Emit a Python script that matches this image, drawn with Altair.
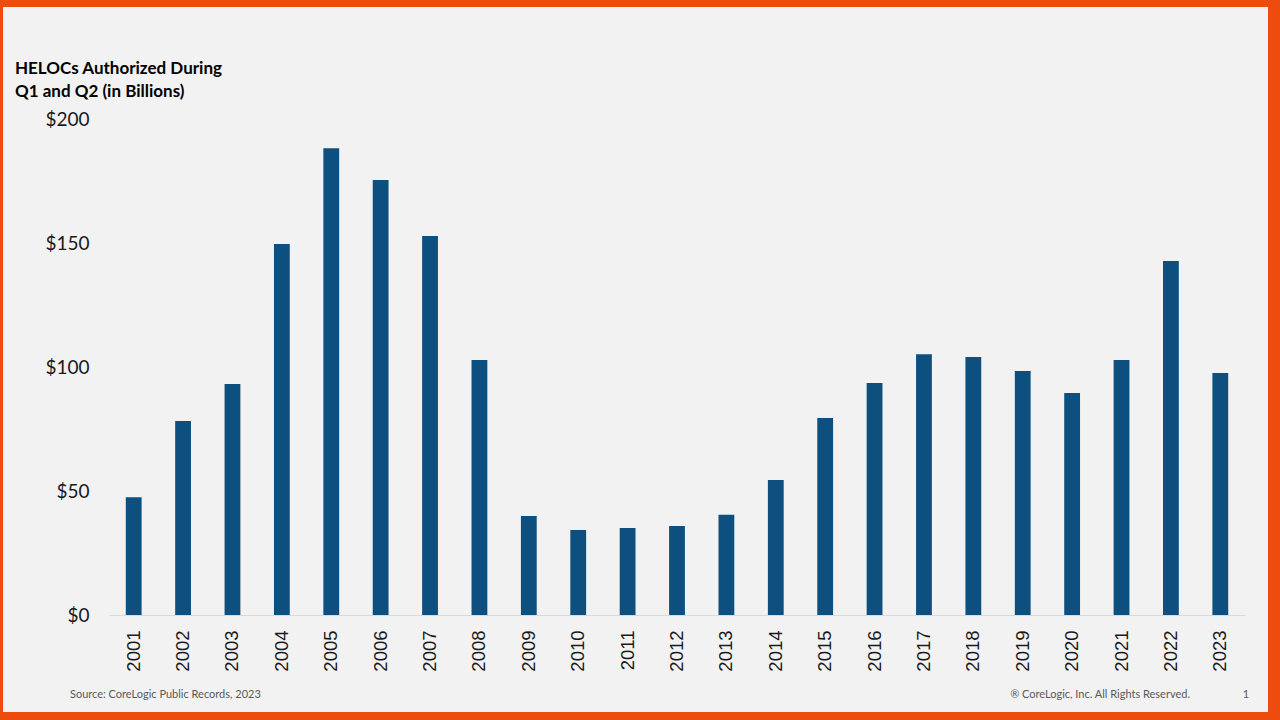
import altair as alt
import pandas as pd

years = [str(y) for y in range(2001, 2024)]
helocs = [47.5, 78.2, 93.1, 149.6, 188.2, 175.4, 152.8, 102.8, 39.9, 34.3, 35.1, 35.9,
          40.4, 54.4, 79.4, 93.5, 105.1, 104.0, 98.4, 89.5, 102.8, 142.7, 97.6]
y_ticks = [0, 50, 100, 150, 200]
title_lines = ["HELOCs Authorized During", "Q1 and Q2 (in Billions)"]
source_text = "Source: CoreLogic Public Records, 2023"
rights_text = "® CoreLogic, Inc. All Rights Reserved."
page_text = "1"

df = pd.DataFrame({"year": years, "value": helocs})

W, H = 1136, 496
PL, PT = 109, 119

one = alt.Data(values=[{"a": 1}])

panel = alt.Chart(one).mark_rect(color="#f2f2f2").encode(
    x=alt.value(3 - PL), x2=alt.value(1268 - PL),
    y=alt.value(7 - PT), y2=alt.value(712 - PT),
)

bars = alt.Chart(df).mark_bar(color="#0d4f7e").encode(
    x=alt.X("year:N", sort=years,
            scale=alt.Scale(paddingInner=0.68, paddingOuter=0.34),
            axis=alt.Axis(title=None, labelAngle=270, labelAlign="right",
                          labelBaseline="middle", labelPadding=15, ticks=False,
                          domain=True, domainColor="#d9d9d9", domainWidth=1,
                          labelFont="Liberation Sans", labelFontSize=18.5,
                          labelColor="#1a1a1a", zindex=1)),
    y=alt.Y("value:Q", scale=alt.Scale(domain=[0, 200], nice=False),
            axis=alt.Axis(title=None, values=y_ticks, format="$.0f", ticks=False,
                          domain=False, grid=False, labelPadding=20,
                          labelFont="Lato", labelFontSize=19, labelColor="#1a1a1a",
                          zindex=1)),
)

title1 = alt.Chart(one).mark_text(
    text=title_lines[0], font="Lato", fontWeight="bold", fontSize=17,
    align="left", baseline="alphabetic", color="#000000"
).encode(x=alt.value(15 - PL), y=alt.value(73.5 - PT))

title2 = alt.Chart(one).mark_text(
    text=title_lines[1], font="Lato", fontWeight="bold", fontSize=17,
    align="left", baseline="alphabetic", color="#000000"
).encode(x=alt.value(15 - PL), y=alt.value(96.5 - PT))

source = alt.Chart(one).mark_text(
    text=source_text, font="Lato", fontSize=11, align="left",
    baseline="alphabetic", color="#595959"
).encode(x=alt.value(70 - PL), y=alt.value(698 - PT))

rights = alt.Chart(one).mark_text(
    text=rights_text, font="Lato", fontSize=11, align="right",
    baseline="alphabetic", color="#595959"
).encode(x=alt.value(1190 - PL), y=alt.value(698 - PT))

page = alt.Chart(one).mark_text(
    text=page_text, font="Lato", fontSize=11, align="center",
    baseline="alphabetic", color="#595959"
).encode(x=alt.value(1246 - PL), y=alt.value(698 - PT))

chart = alt.layer(panel, bars, title1, title2, source, rights, page).properties(
    width=W, height=H,
    autosize=alt.AutoSizeParams(type="none"),
    padding={"left": PL, "top": PT, "right": 1280 - PL - W, "bottom": 720 - PT - H},
    background="#ee4b0e",
).configure_view(stroke=None)

chart.save("out.html", embed_options={"renderer": "svg", "actions": False})
